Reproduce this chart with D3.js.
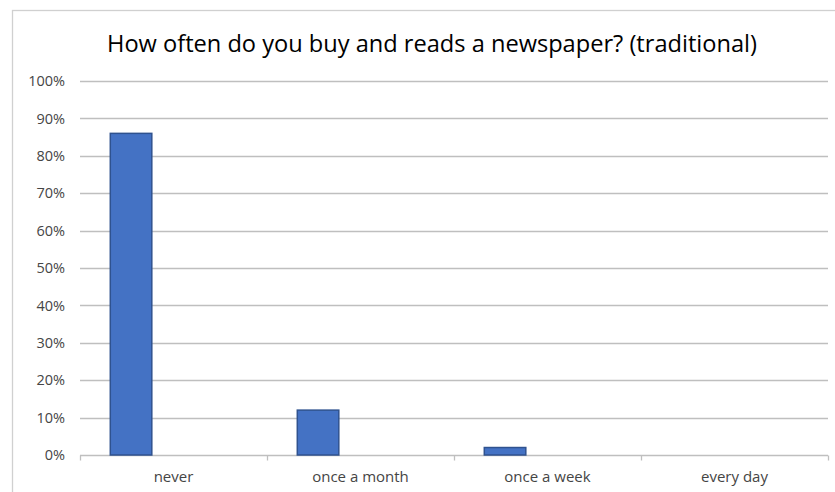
<!DOCTYPE html>
<html>
<head>
<meta charset="utf-8">
<script src="https://cdn.jsdelivr.net/npm/d3@7"></script>
<style>
  html, body { margin: 0; padding: 0; background: #fff; }
  svg { display: block; }
</style>
</head>
<body>
<svg id="chart" width="835" height="492"></svg>
<script>
// Survey answers and share of respondents
const categories = ["never", "once a month", "once a week", "every day"];
const shares = [0.86, 0.12, 0.02, 0];
const yTicks = [0, 0.1, 0.2, 0.3, 0.4, 0.5, 0.6, 0.7, 0.8, 0.9, 1.0];
const title = "How often do you buy and reads a newspaper? (traditional)";

const svg = d3.select("#chart");
const W = 835, H = 492;
const plot = { left: 80, right: 828, top: 81, bottom: 455 };
const font = "'Open Sans', Lato, sans-serif";
const labelColor = "#454545";

// Chart area frame
svg.append("rect")
  .attr("x", 12.5).attr("y", 10.5)
  .attr("width", W).attr("height", H)
  .attr("fill", "#fff").attr("stroke", "#d0d0d0").attr("stroke-width", 1.3);

const x = d3.scaleBand().domain(categories).range([plot.left, plot.right]).padding(0);
const y = d3.scaleLinear().domain([0, 1]).range([plot.bottom, plot.top]);

// Gridlines
svg.append("g").selectAll("line")
  .data(yTicks.filter(d => d > 0))
  .join("line")
  .attr("x1", plot.left).attr("x2", plot.right)
  .attr("y1", d => Math.round(y(d)) + 0.5).attr("y2", d => Math.round(y(d)) + 0.5)
  .attr("stroke", "#bfbfbf").attr("stroke-width", 1.3);

// Y axis labels
const yAxis = d3.axisLeft(y).tickValues(yTicks).tickFormat(d3.format(".0%")).tickSize(0).tickPadding(15);
const gy = svg.append("g").attr("transform", `translate(${plot.left},0)`).call(yAxis);
gy.select(".domain").remove();
gy.selectAll("text").attr("fill", labelColor).style("font-family", font).style("font-size", "14.5px");

// X axis with boundary ticks
const gx = svg.append("g").attr("transform", `translate(0,${plot.bottom + 0.5})`);
gx.append("line")
  .attr("x1", plot.left).attr("x2", plot.right)
  .attr("stroke", "#bfbfbf").attr("stroke-width", 1.3);
const bounds = categories.map(c => x(c)).concat([plot.right]);
gx.selectAll("line.tick").data(bounds).join("line")
  .attr("class", "tick")
  .attr("x1", d => Math.round(d) + 0.5).attr("x2", d => Math.round(d) + 0.5)
  .attr("y1", 0).attr("y2", 5)
  .attr("stroke", "#bfbfbf").attr("stroke-width", 1.3);
gx.selectAll("text").data(categories).join("text")
  .attr("x", d => x(d) + x.bandwidth() / 2)
  .attr("y", 26)
  .attr("text-anchor", "middle")
  .attr("fill", labelColor)
  .style("font-family", font).style("font-size", "15px")
  .text(d => d);

// Bars sit in the left slot of each category
const bw = x.bandwidth();
svg.append("g").selectAll("rect")
  .data(categories.map((c, i) => ({ c, v: shares[i] })).filter(d => d.v > 0))
  .join("rect")
  .attr("x", d => x(d.c) + bw * 0.162)
  .attr("width", bw * 0.222)
  .attr("y", d => y(d.v))
  .attr("height", d => y(0) - y(d.v))
  .attr("fill", "#4472c4")
  .attr("stroke", "#2f528f")
  .attr("stroke-width", 1.5);

// Title
svg.append("text")
  .attr("x", 432).attr("y", 52)
  .attr("text-anchor", "middle")
  .attr("fill", "#000")
  .style("font-family", font).style("font-size", "23px")
  .attr("textLength", 650).attr("lengthAdjust", "spacingAndGlyphs")
  .text(title);
</script>
</body>
</html>
